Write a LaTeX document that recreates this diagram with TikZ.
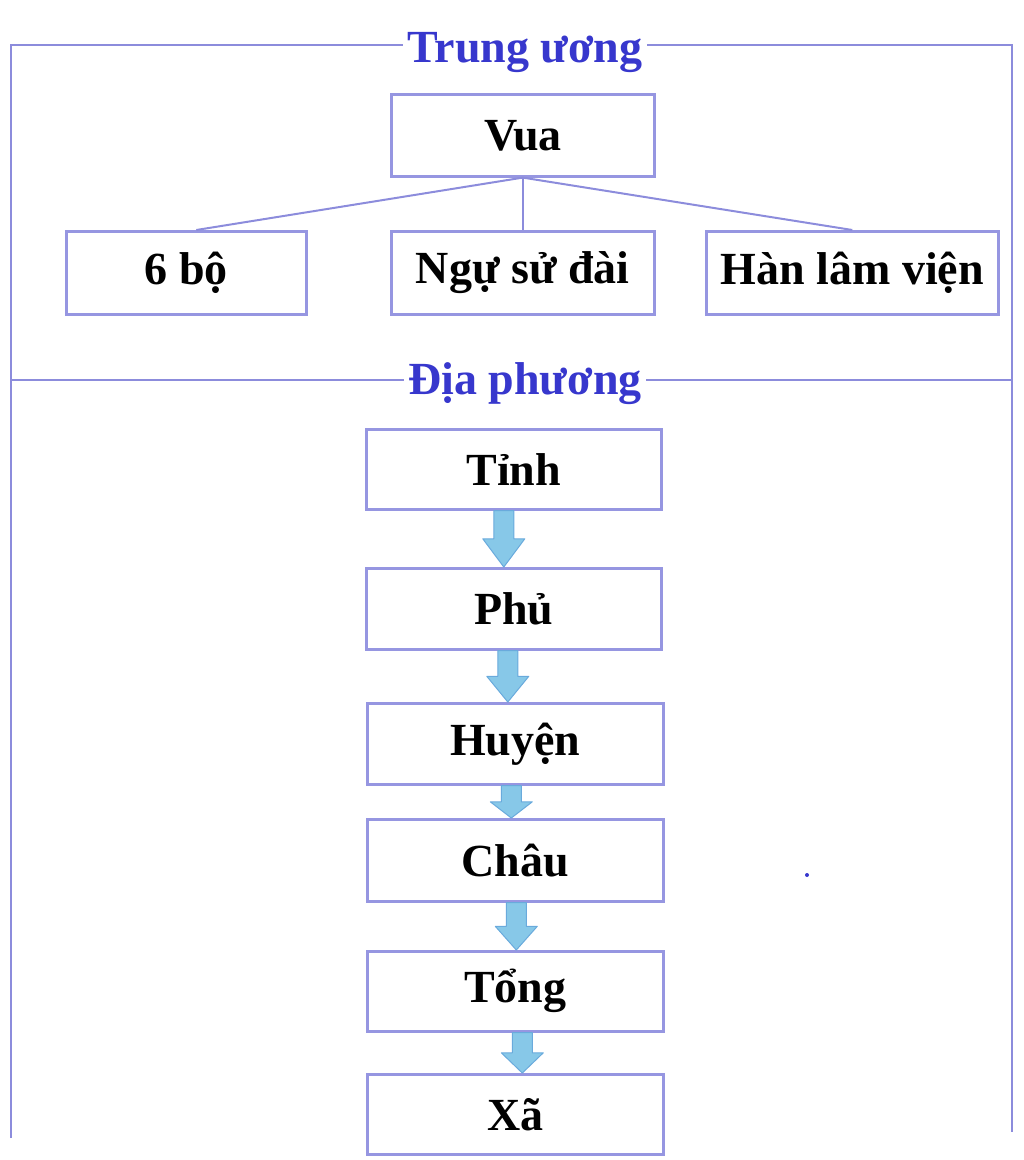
\documentclass[tikz,border=0pt]{standalone}
\usepackage{fontspec}
\setmainfont{Liberation Serif}
\usetikzlibrary{calc}
\definecolor{frameblue}{RGB}{140,140,220}
\definecolor{boxblue}{RGB}{150,150,225}
\definecolor{titleblue}{RGB}{55,55,205}
\definecolor{arrowfill}{RGB}{135,200,232}
\definecolor{arrowline}{RGB}{105,170,220}
\tikzset{
  frameline/.style={draw=frameblue, line width=2.8pt},
  sectitle/.style={fill=white, text=titleblue, inner xsep=4pt, inner ysep=0pt,
    font=\fontsize{46}{50}\selectfont\bfseries, anchor=base},
  unitbox/.style={draw=boxblue, line width=2.6pt, fill=white,
    font=\fontsize{46}{50}\selectfont\bfseries, inner sep=0pt, anchor=north west},
  linkline/.style={draw=frameblue, line width=2pt},
  barrow/.style={fill=arrowfill, draw=arrowline, line width=1pt, line join=round},
}
% block arrow from node #1 (south) to node #2 (north), x offset #3 (pt)
\newcommand{\blockarrow}[3]{%
  \path let \p1=(#1.south), \p2=(#2.north), \n1={(\y1-\y2)*0.5} in
    [barrow] (\x1+#3pt-10pt,\y1) -- (\x1+#3pt+10pt,\y1) -- (\x1+#3pt+10pt,\y2+\n1)
    -- (\x1+#3pt+21pt,\y2+\n1) -- (\x1+#3pt,\y2) -- (\x1+#3pt-21pt,\y2+\n1)
    -- (\x1+#3pt-10pt,\y2+\n1) -- cycle;}
\begin{document}
\begin{tikzpicture}[x=1pt,y=-1pt]
\useasboundingbox (0,0) rectangle (1024,1160);
% frame
\coordinate (tl) at (11,45);
\coordinate (tr) at (1012,45);
\coordinate (ml) at (11,380);
\coordinate (mr) at (1012,380);
\coordinate (bl) at (11,1138);
\coordinate (br) at (1012,1132);
\draw[frameline] (bl) -- (tl) -- (tr) -- (br);
\draw[frameline] (ml) -- (mr);
\node[sectitle] (tw) at (525,62) {Trung ương};
\node[sectitle] (dp) at (525,394) {Địa phương};
% central boxes
\node[unitbox, minimum width=263pt, minimum height=82pt] (vua) at (390,93) {Vua};
\node[unitbox, minimum width=240pt, minimum height=83pt] (b1) at (65,230) {6 bộ};
\node[unitbox, minimum width=263pt, minimum height=83pt] (b2) at (390,230) {Ngự sử đài};
\node[unitbox, minimum width=292pt, minimum height=83pt] (b3) at (705,230) {Hàn lâm viện};
\draw[linkline] (vua.south) -- ($(b1.north)+(10,0)$);
\draw[linkline] (vua.south) -- (b2.north);
\draw[linkline] (vua.south) -- (b3.north);
% local boxes
\node[unitbox, minimum width=295pt, minimum height=80pt] (tinh) at (365,428) {Tỉnh};
\node[unitbox, minimum width=295pt, minimum height=81pt] (phu) at (365,567) {Phủ};
\node[unitbox, minimum width=296pt, minimum height=81pt] (huyen) at (366,702) {Huyện};
\node[unitbox, minimum width=296pt, minimum height=82pt] (chau) at (366,818) {Châu};
\node[unitbox, minimum width=296pt, minimum height=80pt] (tong) at (366,950) {Tổng};
\node[unitbox, minimum width=296pt, minimum height=80pt] (xa) at (366,1073) {Xã};
\blockarrow{tinh}{phu}{-10}
\blockarrow{phu}{huyen}{-6}
\blockarrow{huyen}{chau}{-4}
\blockarrow{chau}{tong}{1}
\blockarrow{tong}{xa}{7}
% stray dot
\fill[titleblue] (807,875) circle (2pt);
\end{tikzpicture}
\end{document}
